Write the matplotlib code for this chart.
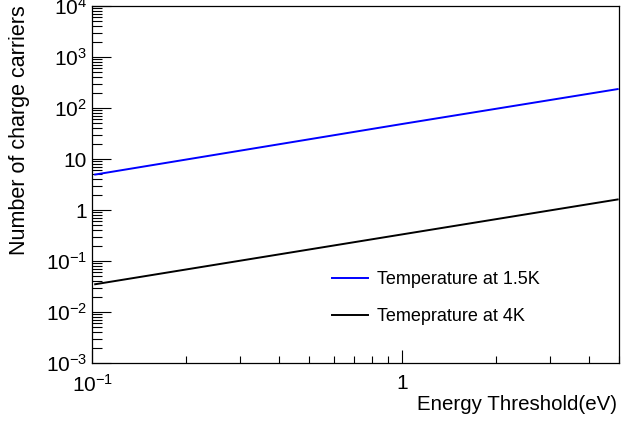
import matplotlib
matplotlib.use("Agg")
import matplotlib.pyplot as plt
from matplotlib.ticker import FixedLocator, FixedFormatter, LogLocator, NullFormatter

plt.rcParams["font.family"] = ["Liberation Sans", "DejaVu Sans"]
plt.rcParams["mathtext.fontset"] = "custom"
plt.rcParams["mathtext.rm"] = "Liberation Sans"
plt.rcParams["mathtext.it"] = "Liberation Sans"

# energy threshold (eV) and number of charge carriers
energy = [0.102, 1.0, 4.95]
carriers_15k = [4.96, 48.7, 235.0]
carriers_4k = [0.035, 0.333, 1.61]

labels = ["Temperature at 1.5K", "Temeprature at 4K"]

y_ticks = [1e-3, 1e-2, 1e-1, 1, 10, 1e2, 1e3, 1e4]
y_labels = ["$10^{-3}$", "$10^{-2}$", "$10^{-1}$", "1", "10",
            "$10^{2}$", "$10^{3}$", "$10^{4}$"]
x_ticks = [0.1, 1]
x_labels = ["$10^{-1}$", "1"]

fig = plt.figure(figsize=(6.41, 4.21), dpi=100)
ax = fig.add_axes([0.1443, 0.1378, 0.9657 - 0.1443, 0.9857 - 0.1378])

ax.plot(energy, carriers_15k, color="#0000ff", linewidth=1.4, label=labels[0])
ax.plot(energy, carriers_4k, color="black", linewidth=1.4, label=labels[1])

ax.set_xscale("log")
ax.set_yscale("log")
ax.set_xlim(0.1, 5)
ax.set_ylim(1e-3, 1e4)

ax.yaxis.set_major_locator(FixedLocator(y_ticks))
ax.yaxis.set_major_formatter(FixedFormatter(y_labels))
ax.yaxis.set_minor_locator(LogLocator(base=10, subs=range(2, 10), numticks=20))
ax.yaxis.set_minor_formatter(NullFormatter())
ax.xaxis.set_major_locator(FixedLocator(x_ticks))
ax.xaxis.set_major_formatter(FixedFormatter(x_labels))
ax.xaxis.set_minor_locator(LogLocator(base=10, subs=range(2, 10), numticks=20))
ax.xaxis.set_minor_formatter(NullFormatter())

ax.tick_params(axis="y", which="major", direction="in", length=14, width=0.8,
               labelsize=15, pad=4, right=False)
ax.tick_params(axis="y", which="minor", direction="in", length=7, width=0.8, right=False)
ax.tick_params(axis="x", which="major", direction="in", length=9.5, width=0.8,
               labelsize=15, pad=8, top=False)
ax.tick_params(axis="x", which="minor", direction="in", length=5, width=0.8, top=False)

for s in ax.spines.values():
    s.set_linewidth(0.9)

fig.text(20 / 641, 1 - 255 / 421, "Number of charge carriers", rotation=90,
         ha="center", va="bottom", fontsize=15.5)
fig.text(617 / 641, 1 - 405 / 421, "Energy Threshold(eV)",
         ha="right", va="center", fontsize=14.8)

ax.legend(loc="upper left", bbox_to_anchor=(0.455, 0.257), frameon=False,
          fontsize=13, handlelength=2.0, handletextpad=0.5,
          labelspacing=1.1, borderpad=0, borderaxespad=0)

fig.savefig("out.png", dpi=100)
plt.close(fig)
